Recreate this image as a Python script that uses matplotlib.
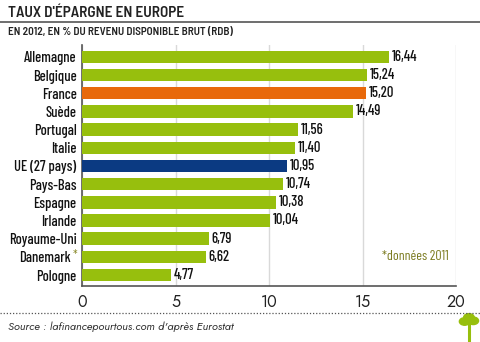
import matplotlib.pyplot as plt
from matplotlib.transforms import ScaledTranslation
from matplotlib.patches import Circle

plt.rcParams['font.family'] = ['Barlow Condensed', 'DejaVu Sans']

# data (taux d'épargne 2012, % du RDB)
pays = ["Allemagne", "Belgique", "France", "Suède", "Portugal", "Italie",
        "UE (27 pays)", "Pays-Bas", "Espagne", "Irlande", "Royaume-Uni",
        "Danemark", "Pologne"]
taux = [16.44, 15.24, 15.20, 14.49, 11.56, 11.40, 10.95, 10.74, 10.38,
        10.04, 6.79, 6.62, 4.77]
labels = ["16,44", "15,24", "15,20", "14,49", "11,56", "11,40", "10,95",
          "10,74", "10,38", "10,04", "6,79", "6,62", "4,77"]
xticks = [0, 5, 10, 15, 20]

green = "#97BF0D"
colors = [green] * len(pays)
colors[pays.index("France")] = "#E8690B"
colors[pays.index("UE (27 pays)")] = "#0B3A82"

fig = plt.figure(figsize=(4.8, 3.42), dpi=100)
ax = fig.add_axes([0.171, 0.164, 0.779, 0.704])

y = list(range(len(pays)))
ax.barh(y, taux, height=0.68, color=colors, zorder=3)
for yi, v, lab in zip(y, taux, labels):
    ax.text(v + 0.15, yi, lab, va="center", ha="left", fontsize=10.5,
            fontweight="medium", color="#111111")

ax.set_ylim(len(pays) - 0.4, -0.65)
ax.set_xlim(0, 20)
ax.set_yticks(y)
ax.set_yticklabels(pays, fontsize=10.5, fontweight="medium", color="#111111")
ax.set_xticks(xticks)
ax.set_xticklabels([str(t) for t in xticks], fontsize=11.5, family="Jost",
                   fontweight="light", color="#222222")
ax.tick_params(axis="both", length=0, pad=4)
ax.tick_params(axis="x", pad=6)
ax.grid(axis="x", color="#D9D9D9", linewidth=1, zorder=0)
for s in ["top", "right"]:
    ax.spines[s].set_visible(False)
ax.spines["left"].set_color("#555555")
ax.spines["bottom"].set_color("#555555")
ax.spines["left"].set_linewidth(1.2)
ax.spines["bottom"].set_linewidth(1.2)

# Danemark label shifted left to leave room for the asterisk
dk = ax.get_yticklabels()[pays.index("Danemark")]
dk.set_transform(dk.get_transform() + ScaledTranslation(-4 / 72, 0, fig.dpi_scale_trans))
ax.annotate("*", xy=(0, pays.index("Danemark")), xycoords=("axes fraction", "data"),
            xytext=(-5, 1), textcoords="offset points", ha="center", va="center",
            fontsize=9, color="#8A8A2A")
ax.text(19.6, 11.0, "*données 2011", ha="right", va="center", fontsize=10,
        color="#7A7A1E")

# titles
fig.text(0.017, 0.962, "TAUX D'ÉPARGNE EN EUROPE", fontsize=11, fontweight="semibold",
         family="Barlow Semi Condensed", color="#222222", va="center")
fig.add_artist(plt.Line2D([0, 1], [0.937, 0.937], color="#555555", linewidth=1.2))
fig.text(0.017, 0.905, "EN 2012, EN % DU REVENU DISPONIBLE BRUT (RDB)", fontsize=8,
         fontweight="semibold", family="Barlow Semi Condensed", color="#222222", va="center")

# source
fig.add_artist(plt.Line2D([0, 1], [0.085, 0.085], color="#555555", linewidth=0.9,
                          linestyle=(0, (1, 1.5))))
fig.text(0.017, 0.045, "Source : lafinancepourtous.com d'après Eurostat", fontsize=8,
         style="italic", color="#333333", va="center", family="Jost")

# small tree logo
fig.add_artist(plt.Line2D([0.977, 0.977], [0.005, 0.05], color=green, linewidth=2.2))
for cx, cy, r in [(0.968, 0.06, 0.011), (0.986, 0.062, 0.011), (0.977, 0.072, 0.011)]:
    fig.add_artist(Circle((cx, cy), r, transform=fig.transFigure, color=green))

fig.savefig("out.png", dpi=100)
